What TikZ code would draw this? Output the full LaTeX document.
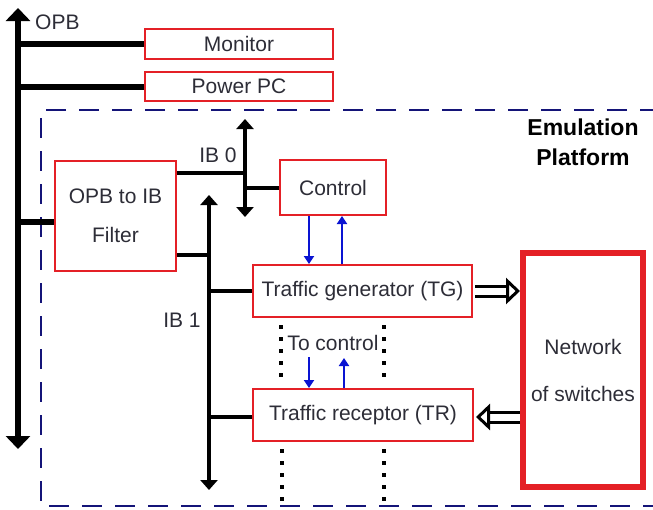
\documentclass[tikz,border=0pt]{standalone}
\usepackage{fontspec}
\setmainfont{Liberation Sans}
\usetikzlibrary{arrows.meta,calc}
\definecolor{boxred}{RGB}{228,32,38}
\definecolor{navyd}{RGB}{20,20,120}
\definecolor{txt}{RGB}{45,45,55}
\definecolor{arrblue}{RGB}{10,20,210}
\tikzset{
  box/.style={draw=boxred, line width=2pt, fill=white, inner sep=0pt, text=txt,
    font=\fontsize{21}{24}\selectfont, align=center},
  lbl/.style={text=txt, font=\fontsize{21}{24}\selectfont, inner sep=0pt},
  opbline/.style={line width=6pt, black},
  ibline/.style={line width=4pt, black},
  busopb/.style={line width=6pt, {Triangle[width=24pt,length=13pt]}-{Triangle[width=24pt,length=13pt]}},
  busib/.style={line width=4pt, {Triangle[width=17pt,length=10pt]}-{Triangle[width=17pt,length=10pt]}},
  blarrow/.style={draw=arrblue, line width=2.2pt, -{Triangle[width=10pt,length=8pt]}},
  dotline/.style={line width=4pt, dash pattern=on 4pt off 8pt},
  frame/.style={draw=navyd, line width=2.6pt, dash pattern=on 20pt off 13pt},
  dblarrow/.style={double=white, double distance=7pt, line width=3pt, -{Triangle[open,width=26pt,length=14pt,line width=3pt]}}
}
\begin{document}
\begin{tikzpicture}[x=1pt,y=-1pt]
\useasboundingbox (0,0) rectangle (653,509);
% dashed frame (right side outside picture)
\draw[frame] (660,110) -- (41,110) -- (41,506) -- (660,506);
% boxes
\node[box, minimum width=188pt, minimum height=30pt] (mon) at (239,44) {Monitor};
\node[box, minimum width=188pt, minimum height=29pt] (ppc) at (239,86.5) {Power PC};
\node[box, minimum width=121pt, minimum height=110pt, font=\fontsize{21}{39}\selectfont] (filt) at (115.5,216) {OPB to IB\\Filter};
\node[box, minimum width=106pt, minimum height=55pt] (ctrl) at (333,187.5) {Control};
\node[box, minimum width=219pt, minimum height=52pt] (tg) at (362.5,291) {Traffic generator (TG)};
\node[box, minimum width=220pt, minimum height=52pt] (tr) at (363,415) {Traffic receptor (TR)};
\node[box, line width=6pt, minimum width=120pt, minimum height=234pt, font=\fontsize{21}{47}\selectfont] (net) at (583,370) {Network\\of switches};
% labels
\node[lbl, anchor=west] (opbl) at (35,22) {OPB};
\node[lbl] (ib0l) at (218,155) {IB 0};
\node[lbl] (ib1l) at (182,320) {IB 1};
\node[lbl] (tocl) at (333,343) {To control};
\node[font=\bfseries\fontsize{23}{30}\selectfont, align=center, inner sep=0pt] (emu) at (583,142) {Emulation\\Platform};
% OPB bus
\coordinate (opbT) at (18,8);
\coordinate (opbB) at (18,449);
\draw[busopb] (opbT) -- (opbB);
\draw[opbline] (mon.west) -- (mon.west -| opbT);
\draw[opbline] (ppc.west) -- (ppc.west -| opbT);
\coordinate (ff) at ([yshift=-6pt]filt.west);
\draw[opbline] (ff) -- (ff -| opbT);
% IB0 bus
\coordinate (ib0T) at (245,119);
\coordinate (ib0B) at (245,217);
\draw[busib] (ib0T) -- (ib0B);
\coordinate (f0) at ([yshift=-13pt]filt.north east);
\draw[ibline] (f0) -- (f0 -| ib0T);
\draw[ibline] (ctrl.west) -- (ctrl.west -| ib0T);
% IB1 bus
\coordinate (ib1T) at (209,195);
\coordinate (ib1B) at (209,490);
\draw[busib] (ib1T) -- (ib1B);
\coordinate (f1) at ([yshift=17pt]filt.south east);
\draw[ibline] (f1) -- (f1 -| ib1T);
\draw[ibline] (tg.west) -- (tg.west -| ib1T);
\coordinate (trw) at ([yshift=-2pt]tr.west);
\draw[ibline] (trw) -- (trw -| ib1T);
% blue arrows control <-> TG
\coordinate (cd) at ([xshift=-24pt]ctrl.south);
\coordinate (cu) at ([xshift=9pt]ctrl.south);
\draw[blarrow] (cd) -- (cd |- tg.north);
\draw[blarrow] (cu |- tg.north) -- (cu);
% blue arrows to control <-> TR
\coordinate (td) at (309,357);
\coordinate (tu) at (344,358);
\draw[blarrow] (td) -- (td |- tr.north);
\draw[blarrow] (tu |- tr.north) -- (tu);
% dotted lines
\coordinate (d1a) at (281,325); \coordinate (d1b) at (281,379);
\coordinate (d2a) at (384,325); \coordinate (d2b) at (384,379);
\coordinate (d3a) at (282,449); \coordinate (d3b) at (282,503);
\coordinate (d4a) at (384,449); \coordinate (d4b) at (384,503);
\draw[dotline] (d1a) -- (d1b);
\draw[dotline] (d2a) -- (d2b);
\draw[dotline] (d3a) -- (d3b);
\draw[dotline] (d4a) -- (d4b);
% double arrows
\coordinate (tge) at ([xshift=2pt]tg.east);
\draw[dblarrow] (tge) -- (tge -| net.west);
\coordinate (nw) at ([yshift=-2pt]net.west |- tr.east);
\draw[dblarrow] (nw) -- ([xshift=2pt]nw -| tr.east);
\end{tikzpicture}
\end{document}
